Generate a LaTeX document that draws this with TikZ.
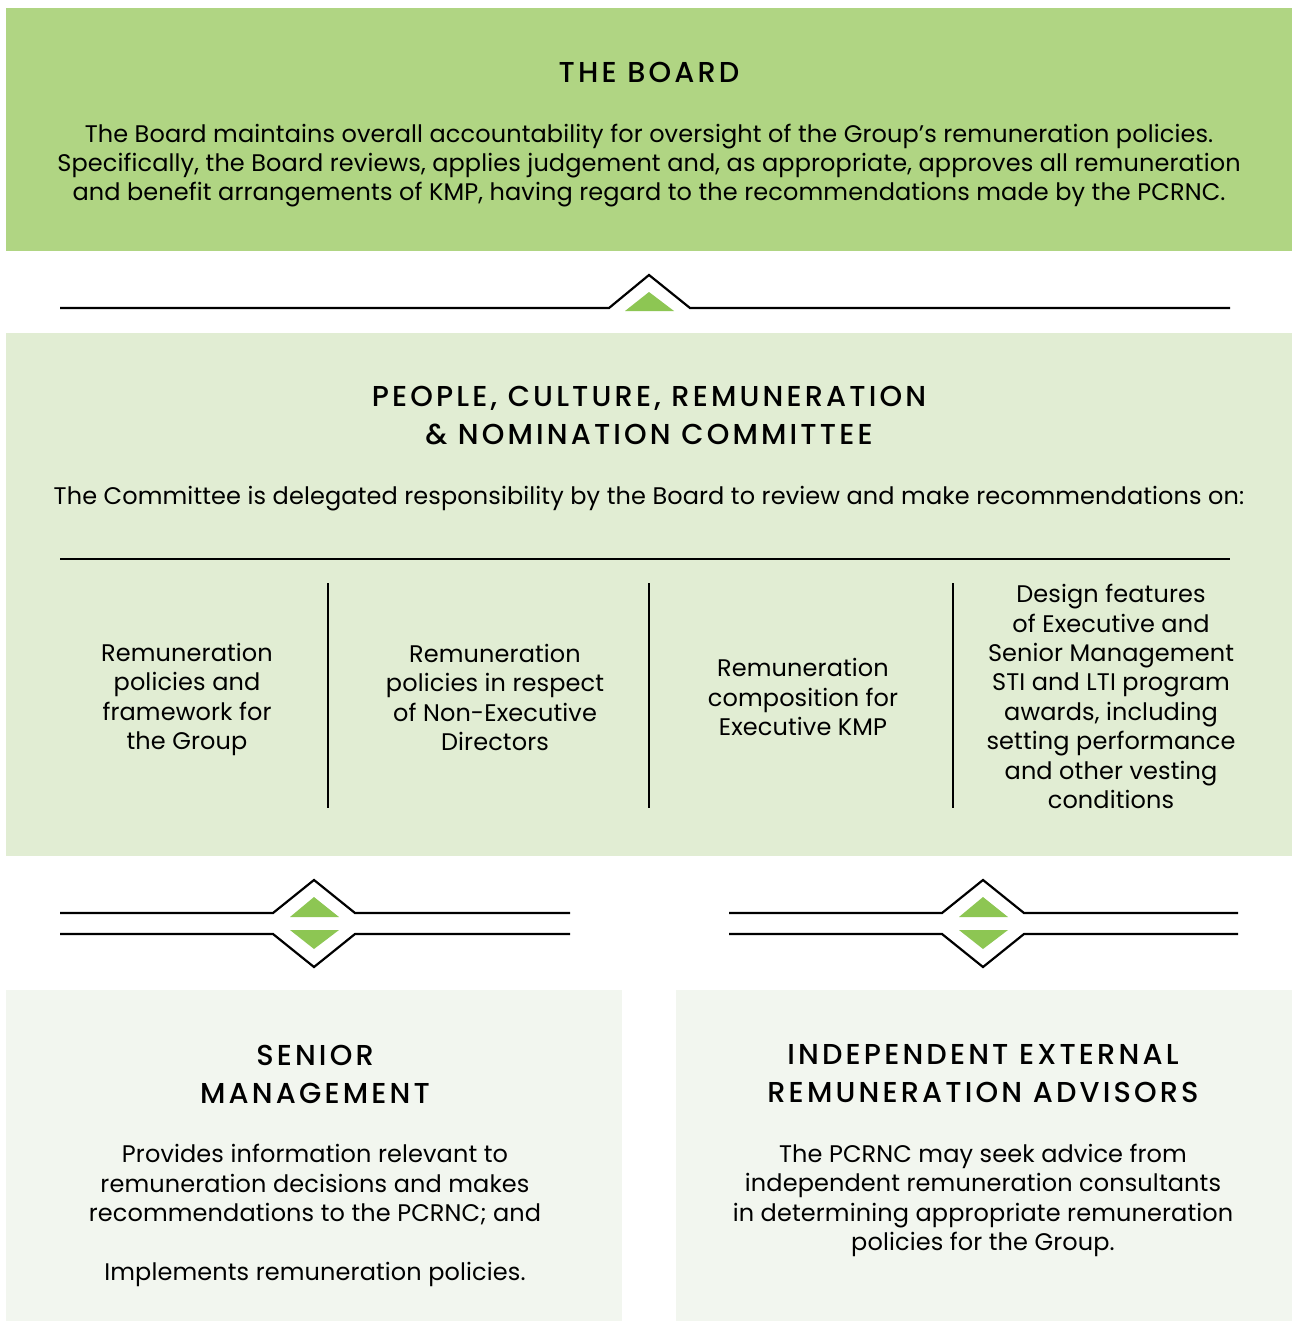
\documentclass[tikz,border=0pt]{standalone}
\usepackage{fontspec}
\setmainfont{Poppins}[LetterSpace=0.5]
\newfontfamily\titlefam{Poppins Medium}[LetterSpace=11]
\definecolor{boardfill}{RGB}{176,213,131}
\definecolor{comfill}{RGB}{225,237,211}
\definecolor{lowfill}{RGB}{242,246,239}
\definecolor{trifill}{RGB}{141,198,83}
\newcommand{\bodyfont}{\fontsize{24}{29.4}\selectfont}
\newcommand{\titlefont}{\titlefam\fontsize{28.8}{38}\selectfont}
\tikzset{
  panel/.style={draw=none, anchor=north west, inner sep=0pt},
  txt/.style={align=center, inner sep=0pt, font=\bodyfont, text=black, yshift=-2.5pt},
  ttl/.style={align=center, inner sep=0pt, font=\titlefont, text=black},
  conn/.style={line width=2.2pt, black, line join=miter},
  divider/.style={line width=1.4pt, black},
  tri/.style={fill=trifill, draw=none}
}
\begin{document}
\begin{tikzpicture}[x=1pt,y=-1pt]
\useasboundingbox (0,0) rectangle (1292,1322);
\fill[white] (0,0) rectangle (1292,1322);
% panels
\node[panel, fill=boardfill, minimum width=1286pt, minimum height=243pt] (board) at (6,8) {};
\node[panel, fill=comfill, minimum width=1286pt, minimum height=523pt] (com) at (6,333) {};
\node[panel, fill=lowfill, minimum width=616pt, minimum height=331pt] (senior) at (6,990) {};
\node[panel, fill=lowfill, minimum width=616pt, minimum height=331pt] (advis) at (676,990) {};
% board texts
\node[ttl] (boardtitle) at (649,72) {THE BOARD};
\node[txt] (boardtext) at (649,163) {The Board maintains overall accountability for oversight of the Group’s remuneration policies.\\
Specifically, the Board reviews, applies judgement and, as appropriate, approves all remuneration\\
and benefit arrangements of KMP, having regard to the recommendations made by the PCRNC.};
% top connector
\coordinate (tl) at (60,308);
\coordinate (tr) at (1230,308);
\draw[conn] (tl) -- (609,308) -- (649,275) -- (690,308) -- (tr);
\fill[tri] (625,311) -- (649,292) -- (674,311) -- cycle;
% committee texts
\node[ttl] (comtitle) at (649,416) {PEOPLE, CULTURE, REMUNERATION\\\& NOMINATION COMMITTEE};
\node[txt] (comtext) at (649,496) {The Committee is delegated responsibility by the Board to review and make recommendations on:};
\coordinate (hl) at (60,559);
\coordinate (hr) at (1230,559);
\draw[divider] (hl) -- (hr);
\draw[divider] (328,583) -- (328,808);
\draw[divider] (649,583) -- (649,808);
\draw[divider] (953,583) -- (953,808);
\node[txt] (c1) at (187,697) {Remuneration\\policies and\\framework for\\the Group};
\node[txt] (c2) at (495,695) {Remuneration\\policies in respect\\of Non-Executive\\Directors};
\node[txt] (c3) at (803,694.5) {Remuneration\\composition for\\Executive KMP};
\node[txt] (c4) at (1111,694) {Design features\\of Executive and\\Senior Management\\STI and LTI program\\awards, including\\setting performance\\and other vesting\\conditions};
% lower connectors
\foreach \cx/\xa/\xb in {314/60/570, 983/729/1238} {
  \draw[conn] (\xa,913) -- (\cx-41,913) -- (\cx,880) -- (\cx+41,913) -- (\xb,913);
  \draw[conn] (\xa,934) -- (\cx-41,934) -- (\cx,967) -- (\cx+41,934) -- (\xb,934);
  \fill[tri] (\cx-24,917) -- (\cx,897) -- (\cx+25,917) -- cycle;
  \fill[tri] (\cx-24,930) -- (\cx,949) -- (\cx+25,930) -- cycle;
}
% bottom texts
\node[ttl] (srtitle) at (315,1074) {SENIOR\\MANAGEMENT};
\node[txt] (srtext) at (315,1213) {Provides information relevant to\\remuneration decisions and makes\\recommendations to the PCRNC; and\\[29.4pt]Implements remuneration policies.};
\node[ttl] (adtitle) at (983,1074) {INDEPENDENT EXTERNAL\\REMUNERATION ADVISORS};
\node[txt] (adtext) at (983,1198) {The PCRNC may seek advice from\\independent remuneration consultants\\in determining appropriate remuneration\\policies for the Group.};
\end{tikzpicture}
\end{document}
